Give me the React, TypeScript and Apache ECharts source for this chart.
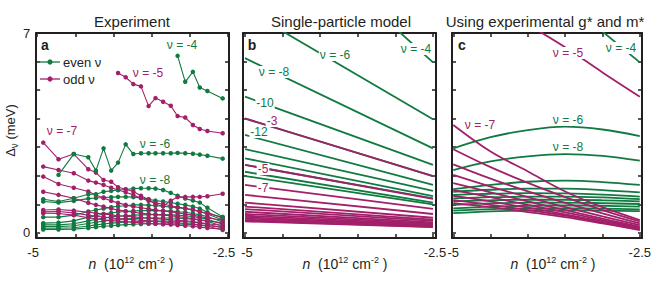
import React, { useEffect, useRef } from 'react';
import * as echarts from 'echarts';

const GREEN = '#107a40';
const MAGENTA = '#a2206a';
const INK = '#231f20';
const FONT = '"Liberation Sans", Arial, sans-serif';

// ---------- Panel a: experiment ----------
const nExp = [-4.92, -4.72, -4.52, -4.33, -4.23, -4.13, -4.03, -3.94, -3.84, -3.74, -3.64,
  -3.54, -3.45, -3.35, -3.25, -3.16, -3.06, -2.96, -2.87, -2.77, -2.57];
const expNu4 = [null, null, null, null, null, null, null, null, null, null, null, null, null, null, null,
  6.2, 5.29, 5.64, 5.09, 4.97, 4.71];
const expNu5 = [null, null, null, null, null, null, null,
  5.6, 5.45, 5.21, 5.13, 4.44, 4.72, 4.59, 4.45, 4.09, 4.04, 3.78, 3.64, 3.57, 3.49];
const expNu6 = [null, 2.03, 2.76, 2.65, 2.18, 2.96, 2.18, 2.46, 3.1, 2.76, 2.79, 2.79, 2.79, 2.79,
  2.79, 2.8, 2.79, 2.77, 2.74, 2.7, 2.6];
const expNu8 = [1.18, 1.1, 1.21, 1.35, 1.35, 1.44, 1.47, 1.5, 1.52, 1.55, 1.56, 1.56, 1.55, 1.5,
  1.4, 1.3, 1.2, 1.13, 1.06, 0.88, 0.56];
const expEvenLow = [
  [1.1, 1.06, 1.12, 1.2, 1.22, 1.24, 1.25, 1.26, 1.26, 1.25, 1.22, 1.18, 1.13, 1.1, 1.06, 1.02, 0.98, 0.92, 0.85, 0.72, 0.51],
  [0.55, 0.55, 0.62, 0.75, 0.8, 0.85, 0.9, 0.93, 0.95, 0.98, 0.98, 0.97, 0.95, 0.93, 0.9, 0.88, 0.85, 0.8, 0.74, 0.66, 0.45],
  [0.34, 0.36, 0.42, 0.55, 0.6, 0.66, 0.7, 0.73, 0.75, 0.77, 0.78, 0.78, 0.78, 0.77, 0.76, 0.74, 0.72, 0.68, 0.63, 0.57, 0.38],
  [0.28, 0.28, 0.32, 0.42, 0.47, 0.52, 0.56, 0.58, 0.6, 0.62, 0.63, 0.64, 0.64, 0.64, 0.63, 0.62, 0.6, 0.57, 0.53, 0.48, 0.3],
  [0.22, 0.22, 0.25, 0.33, 0.37, 0.41, 0.44, 0.47, 0.49, 0.5, 0.51, 0.52, 0.52, 0.52, 0.52, 0.51, 0.5, 0.48, 0.45, 0.4, 0.24],
  [0.16, 0.16, 0.18, 0.24, 0.28, 0.31, 0.34, 0.36, 0.38, 0.39, 0.4, 0.41, 0.41, 0.41, 0.41, 0.4, 0.39, 0.37, 0.35, 0.3, 0.17],
  [0.12, 0.12, 0.13, 0.17, 0.2, 0.23, 0.25, 0.27, 0.29, 0.3, 0.31, 0.32, 0.32, 0.32, 0.32, 0.31, 0.3, 0.29, 0.27, 0.23, 0.1],
];
const expNu7 = [3.16, 2.58, 2.76, 2.23, 2.11, 1.85, 1.79, 1.6, 1.53, 1.45, 1.3, 1.17, 1.0, 0.93,
  1.13, 1.25, 1.26, 1.26, 1.26, 1.28, 1.37];
const expOddLow = [
  [2.32, 2.2, 2.09, 1.83, 1.76, 1.68, 1.58, 1.5, 1.42, 1.33, 1.22, 1.12, 1.05, 1.0, 0.95, 0.9, 0.86, 0.82, 0.76, 0.68, 0.55],
  [1.97, 1.71, 1.58, 1.45, 1.33, 1.22, 1.12, 1.05, 0.98, 0.92, 0.88, 0.84, 0.8, 0.77, 0.74, 0.7, 0.66, 0.62, 0.57, 0.52, 0.45],
  [1.44, 1.33, 1.21, 1.05, 0.98, 0.92, 0.85, 0.8, 0.76, 0.72, 0.69, 0.66, 0.64, 0.62, 0.6, 0.57, 0.54, 0.5, 0.46, 0.42, 0.35],
  [0.8, 0.82, 0.78, 0.72, 0.69, 0.66, 0.63, 0.6, 0.58, 0.56, 0.54, 0.52, 0.5, 0.48, 0.46, 0.44, 0.42, 0.4, 0.36, 0.32, 0.26],
  [0.74, 0.75, 0.7, 0.62, 0.58, 0.55, 0.52, 0.5, 0.48, 0.46, 0.44, 0.42, 0.4, 0.38, 0.36, 0.35, 0.33, 0.31, 0.28, 0.25, 0.2],
  [0.69, 0.68, 0.62, 0.53, 0.49, 0.46, 0.43, 0.41, 0.39, 0.37, 0.35, 0.33, 0.32, 0.3, 0.29, 0.27, 0.25, 0.23, 0.2, 0.17, 0.13],
];

// ---------- Panel b: single-particle model (values at n = -5 and n = -2.5) ----------
const nModel = [-5, -2.5];
const modelEvenNu = [-4, -6, -8, -10, -12, -14, -16, -18, -20, -22, -24];
const modelEvenAtStart = [11.94, 7.83, 6.12, 4.77, 4.0, 3.43, 2.93, 2.61, 2.38, 2.14, 1.99];
const modelEvenAtEnd = [5.97, 3.98, 2.96, 2.38, 1.99, 1.68, 1.47, 1.29, 1.21, 1.06, 1.0];
const modelOddNu = [-3, -5, -7, -9, -11, -13, -15, -17, -19, -21, -23, -25, -27, -29, -31];
const modelOddAtStart = [4.01, 2.38, 1.68, 1.33, 1.06, 0.92, 0.83, 0.74, 0.66, 0.6, 0.55, 0.5, 0.46, 0.43, 0.4];
const modelOddAtEnd = [1.99, 1.19, 0.84, 0.66, 0.53, 0.46, 0.42, 0.37, 0.33, 0.3, 0.27, 0.25, 0.23, 0.21, 0.2];

// ---------- Panel c: experimental g* and m* ----------
const nFit = [-5, -4.5, -4, -3.5, -3, -2.5];
const fitEven = [
  [null, null, null, 8.1, 7.05, 5.97],
  [2.96, 3.35, 3.6, 3.72, 3.62, 3.39],
  [2.2, 2.5, 2.68, 2.76, 2.7, 2.53],
  [1.53, 1.68, 1.79, 1.83, 1.78, 1.68],
  [1.44, 1.51, 1.55, 1.55, 1.5, 1.42],
  [1.33, 1.37, 1.39, 1.38, 1.34, 1.27],
  [1.21, 1.25, 1.27, 1.27, 1.24, 1.18],
  [1.1, 1.14, 1.16, 1.16, 1.14, 1.1],
  [0.98, 1.03, 1.06, 1.06, 1.04, 1.01],
  [0.86, 0.92, 0.95, 0.96, 0.95, 0.92],
  [0.78, 0.83, 0.86, 0.86, 0.85, 0.82],
  [0.69, 0.75, 0.78, 0.79, 0.78, 0.76],
];
const fitOdd = [
  [8.9, 8.1, 7.3, 6.5, 5.62, 4.77],
  [3.78, 2.85, 2.15, 1.45, 0.9, 0.45],
  [2.93, 2.3, 1.75, 1.25, 0.8, 0.4],
  [2.4, 1.9, 1.45, 1.05, 0.68, 0.33],
  [2.03, 1.62, 1.25, 0.9, 0.58, 0.27],
  [1.74, 1.42, 1.1, 0.8, 0.5, 0.22],
  [1.5, 1.25, 0.98, 0.72, 0.45, 0.18],
  [1.3, 1.1, 0.88, 0.65, 0.4, 0.15],
  [1.15, 0.98, 0.8, 0.6, 0.36, 0.12],
  [1.04, 0.9, 0.73, 0.55, 0.33, 0.1],
];

const xTicks = [-5, -4.5, -4, -3.5, -3, -2.5];
const xTickLabels = [-5, -2.5];
const yTicks = [0, 1, 2, 3, 4, 5, 6, 7];
const yTickLabels = [0, 7];

const gridBoxes = [
  { left: 36, width: 193, xmin: -5.013, xmax: -2.487, labelPad: [0, 8, 0, 0] },
  { left: 243, width: 193, xmin: -5.027, xmax: -2.46, labelPad: [0, 0, 0, 4] },
  { left: 452, width: 192, xmin: -5.017, xmax: -2.47, labelPad: [0, 0, 0, 0] },
];

function pairs(xs: number[], ys: (number | null)[]) {
  const out: number[][] = [];
  ys.forEach((v, i) => { if (v !== null && v !== undefined) out.push([xs[i], v]); });
  return out;
}

export default function App() {
  const ref = useRef<HTMLDivElement>(null);
  useEffect(() => {
    if (!ref.current) return;
    const chart = echarts.init(ref.current, undefined, { renderer: 'svg' });

    const axisLine = { show: true, onZero: false, lineStyle: { color: INK, width: 2 } };
    const xAxes: any[] = [];
    const yAxes: any[] = [];
    gridBoxes.forEach((g, i) => {
      ['bottom', 'top'].forEach((pos) => {
        xAxes.push({
          gridIndex: i, type: 'value', position: pos, min: g.xmin, max: g.xmax,
          axisLine,
          axisTick: { show: true, inside: true, length: 4, customValues: xTicks, lineStyle: { color: INK, width: 1.5 } },
          axisLabel: {
            show: pos === 'bottom', customValues: xTickLabels, margin: 8, padding: g.labelPad,
            formatter: (v: number) => String(v), fontSize: 13, color: INK, fontFamily: FONT,
          },
          splitLine: { show: false },
        });
      });
      ['left', 'right'].forEach((pos) => {
        const isMain = i === 0 && pos === 'left';
        yAxes.push({
          gridIndex: i, type: 'value', position: pos, min: -0.18, max: 7,
          axisLine,
          axisTick: { show: true, inside: true, length: 4, customValues: yTicks, lineStyle: { color: INK, width: 1.5 } },
          axisLabel: {
            show: isMain, customValues: yTickLabels, margin: 6,
            formatter: (v: number) => String(v), fontSize: 13, color: INK, fontFamily: FONT,
          },
          splitLine: { show: false },
          ...(isMain ? {
            name: 'Δ{sub|ν} (meV)', nameLocation: 'middle', nameGap: 17, nameRotate: 90,
            nameTextStyle: {
              color: INK, fontSize: 13, fontFamily: FONT, lineHeight: 18, padding: [0, 0, 0, 10],
              rich: { sub: { fontSize: 10, fontFamily: FONT, color: INK, verticalAlign: 'bottom', lineHeight: 12 } },
            },
          } : {}),
        });
      });
    });

    const series: any[] = [];
    const expLine = (vals: (number | null)[], color: string) => ({
      type: 'line', xAxisIndex: 0, yAxisIndex: 0, data: pairs(nExp, vals),
      symbol: 'circle', symbolSize: 4.5, silent: true,
      lineStyle: { color, width: 1.1 }, itemStyle: { color },
    });
    expEvenLow.forEach((v) => series.push(expLine(v, GREEN)));
    expOddLow.forEach((v) => series.push(expLine(v, MAGENTA)));
    series.push(expLine(expNu8, GREEN));
    series.push(expLine(expNu7, MAGENTA));
    series.push(expLine(expNu6, GREEN));
    series.push(expLine(expNu5, MAGENTA));
    series.push(expLine(expNu4, GREEN));

    const modelLine = (a: number, b: number, color: string) => ({
      type: 'line', xAxisIndex: 2, yAxisIndex: 2, data: pairs(nModel, [a, b]),
      symbol: 'none', silent: true, lineStyle: { color, width: 1.8 },
    });
    modelEvenNu.forEach((_, i) => series.push(modelLine(modelEvenAtStart[i], modelEvenAtEnd[i], GREEN)));
    modelOddNu.slice().reverse().forEach((_, k) => {
      const i = modelOddNu.length - 1 - k;
      series.push(modelLine(modelOddAtStart[i], modelOddAtEnd[i], MAGENTA));
    });

    const fitLine = (vals: (number | null)[], color: string) => ({
      type: 'line', xAxisIndex: 4, yAxisIndex: 4, data: pairs(nFit, vals),
      symbol: 'none', smooth: 0.35, silent: true, lineStyle: { color, width: 1.8 },
    });
    fitEven.forEach((v) => series.push(fitLine(v, GREEN)));
    fitOdd.forEach((v) => series.push(fitLine(v, MAGENTA)));

    const txt = (text: string, x: number, y: number, fill: string, opts: any = {}) => ({
      type: 'text', x, y, z: 100, silent: true,
      style: {
        text, fill, fontSize: 12, fontFamily: FONT, align: 'center', verticalAlign: 'middle',
        ...(opts.bg ? { backgroundColor: '#fff', padding: [0, 1] } : {}),
        ...(opts.style || {}),
      },
    });

    const labels: any[] = [
      txt('Experiment', 132, 21, INK, { style: { fontSize: 15 } }),
      txt('Single-particle model', 341, 21, INK, { style: { fontSize: 15 } }),
      txt('Using experimental g* and m*', 545, 21, INK, { style: { fontSize: 15 } }),
      txt('a', 45, 45, INK, { style: { fontSize: 14, fontWeight: 'bold' } }),
      txt('b', 252, 45, INK, { style: { fontSize: 14, fontWeight: 'bold' } }),
      txt('c', 462, 45, INK, { style: { fontSize: 14, fontWeight: 'bold' } }),
      txt('ν = -4', 182, 45, GREEN),
      txt('ν = -5', 148, 73, MAGENTA),
      txt('ν = -7', 62, 131, MAGENTA),
      txt('ν = -6', 155, 144, GREEN),
      txt('ν = -8', 155, 180, GREEN),
      txt('ν = -4', 416, 49, GREEN, { bg: true }),
      txt('ν = -6', 335, 55, GREEN, { bg: true }),
      txt('ν = -8', 274, 72, GREEN, { bg: true }),
      txt('-10', 265, 103, GREEN, { bg: true }),
      txt('-3', 272, 121, MAGENTA, { bg: true }),
      txt('-12', 259, 132, GREEN, { bg: true }),
      txt('-5', 263, 169, MAGENTA, { bg: true }),
      txt('-7', 263, 188, MAGENTA, { bg: true }),
      txt('ν = -4', 621, 48, GREEN, { bg: true }),
      txt('ν = -5', 568, 53, MAGENTA, { bg: true }),
      txt('ν = -7', 480, 125, MAGENTA, { bg: true }),
      txt('ν = -6', 568, 120, GREEN, { bg: true }),
      txt('ν = -8', 568, 147, GREEN, { bg: true }),
      { type: 'line', z: 100, silent: true, shape: { x1: 40, y1: 62, x2: 60, y2: 62 }, style: { stroke: GREEN, lineWidth: 1.3 } },
      { type: 'circle', z: 101, silent: true, shape: { cx: 50, cy: 62, r: 2.6 }, style: { fill: GREEN } },
      { type: 'text', z: 100, silent: true, x: 63, y: 62, style: { text: 'even ν', fill: INK, fontSize: 13, fontFamily: FONT, align: 'left', verticalAlign: 'middle' } },
      { type: 'line', z: 100, silent: true, shape: { x1: 40, y1: 79, x2: 60, y2: 79 }, style: { stroke: MAGENTA, lineWidth: 1.3 } },
      { type: 'circle', z: 101, silent: true, shape: { cx: 50, cy: 79, r: 2.6 }, style: { fill: MAGENTA } },
      { type: 'text', z: 100, silent: true, x: 63, y: 79, style: { text: 'odd ν', fill: INK, fontSize: 13, fontFamily: FONT, align: 'left', verticalAlign: 'middle' } },
    ];
    [131, 345, 553].forEach((cx) => {
      labels.push({
        type: 'text', z: 100, silent: true, x: cx, y: 264,
        style: {
          text: '{i|n}  (10{s|12} cm{s|-2} )', fill: INK, fontSize: 14, fontFamily: FONT, lineHeight: 18,
          align: 'center', verticalAlign: 'middle',
          rich: {
            i: { fontStyle: 'italic', fontSize: 14, fontFamily: FONT, fill: INK, lineHeight: 18 },
            s: { fontSize: 9, fontFamily: FONT, fill: INK, verticalAlign: 'top', lineHeight: 10 },
          },
        },
      });
    });

    chart.setOption({
      animation: false,
      backgroundColor: '#fff',
      grid: gridBoxes.map((g) => ({ left: g.left, width: g.width, top: 33, height: 205, containLabel: false })),
      xAxis: xAxes,
      yAxis: yAxes,
      series,
      graphic: labels,
    });
    return () => chart.dispose();
  }, []);
  return <div ref={ref} style={{ position: 'absolute', left: 0, top: 0, width: 654, height: 282 }} />;
}
